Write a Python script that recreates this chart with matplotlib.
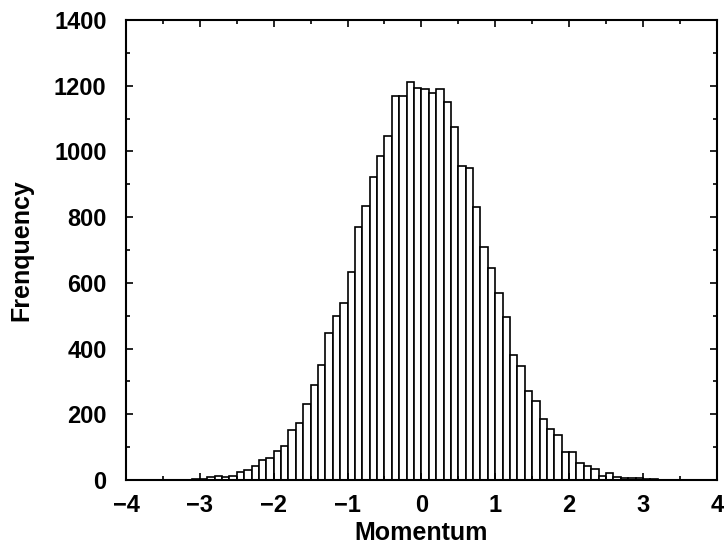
import matplotlib
matplotlib.use("Agg")
import matplotlib.pyplot as plt
from matplotlib.ticker import MultipleLocator
import numpy as np

# Histogram bins: left edges from -4.0 to 3.9, width 0.1
bin_left = np.round(np.arange(-4.0, 4.0, 0.1), 1)
counts = [
    0, 0, 0, 0, 1, 0, 1, 1, 1, 2,          # -4.0 .. -3.1
    3, 10, 13, 8, 12, 24, 29, 43, 61, 66,  # -3.0 .. -2.1
    88, 103, 152, 174, 230, 289, 350, 448, 500, 538,   # -2.0 .. -1.1
    634, 771, 834, 923, 987, 1047, 1169, 1167, 1210, 1192,  # -1.0 .. -0.1
    1189, 1179, 1190, 1149, 1075, 956, 948, 832, 710, 646,  # 0.0 .. 0.9
    568, 497, 380, 348, 272, 241, 185, 154, 136, 84,   # 1.0 .. 1.9
    84, 52, 44, 34, 12, 22, 8, 7, 5, 5,    # 2.0 .. 2.9
    2, 2, 1, 1, 0, 1, 1, 0, 0, 0,          # 3.0 .. 3.9
]
bin_width = 0.1

x_ticks = [-4, -3, -2, -1, 0, 1, 2, 3, 4]
y_ticks = [0, 200, 400, 600, 800, 1000, 1200, 1400]

plt.rcParams['font.family'] = ['Liberation Sans', 'DejaVu Sans']
plt.rcParams['font.weight'] = 'bold'

fig = plt.figure(figsize=(7.24, 5.49), dpi=100)
ax = fig.add_axes([0.174, 0.1257, 0.816, 0.838])

ax.bar(bin_left, counts, width=bin_width, align='edge',
       facecolor='white', edgecolor='black', linewidth=1.2)

ax.set_xlim(-4, 4)
ax.set_ylim(0, 1400)
ax.set_xticks(x_ticks)
ax.set_yticks(y_ticks)
ax.xaxis.set_minor_locator(MultipleLocator(0.5))
ax.yaxis.set_minor_locator(MultipleLocator(100))
ax.tick_params(which='both', direction='in', top=True, right=True,
               labelsize=17, width=1.2)
ax.tick_params(which='major', length=5)
ax.tick_params(which='minor', length=3)
ax.tick_params(axis='y', which='major', pad=14)
ax.tick_params(axis='x', which='major', pad=10)
for lab in ax.get_xticklabels() + ax.get_yticklabels():
    lab.set_fontweight('bold')
for sp in ax.spines.values():
    sp.set_linewidth(1.5)

ax.set_xlabel('Momentum', fontsize=18, fontweight='bold', labelpad=3)
ax.set_ylabel('Frenquency', fontsize=18, fontweight='bold')
ax.yaxis.set_label_coords(-0.157, 0.5)

fig.savefig('out.png', dpi=100)
